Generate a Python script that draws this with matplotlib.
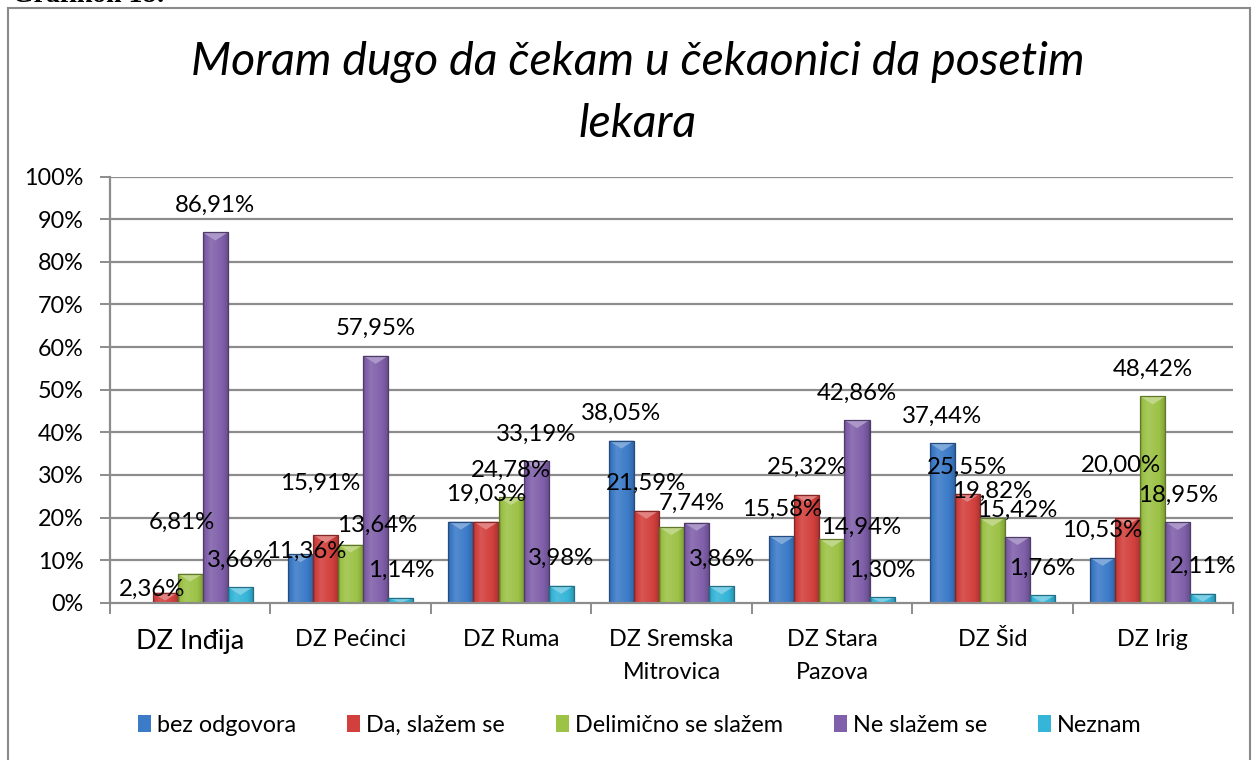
import matplotlib
matplotlib.use("Agg")
import matplotlib.pyplot as plt
import numpy as np
from matplotlib.patches import Rectangle, Polygon
from matplotlib.colors import to_rgb

# ---------------- data ----------------
categories = ["DZ Inđija", "DZ Pećinci", "DZ Ruma", "DZ Sremska\nMitrovica",
              "DZ Stara\nPazova", "DZ Šid", "DZ Irig"]
series_names = ["bez odgovora", "Da, slažem se", "Delimično se slažem",
                "Ne slažem se", "Neznam"]
bez_odgovora = [0.00, 11.36, 19.03, 38.05, 15.58, 37.44, 10.53]
da_slazem = [2.36, 15.91, 19.03, 21.59, 25.32, 25.55, 20.00]
delimicno = [6.81, 13.64, 24.78, 17.74, 14.94, 19.82, 48.42]
ne_slazem = [86.91, 57.95, 33.19, 18.76, 42.86, 15.42, 18.95]
neznam = [3.66, 1.14, 3.98, 3.86, 1.30, 1.76, 2.11]
series = [bez_odgovora, da_slazem, delimicno, ne_slazem, neznam]
yticks = [0, 10, 20, 30, 40, 50, 60, 70, 80, 90, 100]
title = "Moram dugo da čekam u čekaonici da posetim\nlekara"

# labels as shown in the picture
label_text_override = {(2, 3): "7,74%"}
hidden_labels = {(0, 0), (0, 2), (3, 3)}

# ---------------- styling ----------------
base_colors = ["#3c7bc8", "#d2403d", "#9cc246", "#8060aa", "#35b5d8"]
FONT = "Lato"
plt.rcParams["font.family"] = [FONT, "DejaVu Sans"]

W, H, DPI = 12.52, 7.60, 100
fig = plt.figure(figsize=(W, H), dpi=DPI)
fig.patch.set_facecolor("white")

def fx(px):
    return px / (W * DPI)

def fy(py):
    return 1 - py / (H * DPI)

# outer frame
fig.patches.append(Rectangle((fx(7.5), fy(790)), fx(1249.5) - fx(7.5), fy(8) - fy(790),
                             transform=fig.transFigure, fill=False,
                             edgecolor="#8a8a8a", lw=1.5, zorder=0))
fig.text(fx(12), fy(2), "Grafikon 18:", family="Liberation Serif", weight="bold",
         fontsize=20, va="baseline", ha="left")

ax_l, ax_r, ax_t, ax_b = 110, 1233, 176.7, 602.7
ax = fig.add_axes([fx(ax_l), fy(ax_b), fx(ax_r) - fx(ax_l), fy(ax_t) - fy(ax_b)])
ax.set_facecolor("none")

n_cat = len(categories)
n_ser = len(series)
bw = 25 / 160
x = np.arange(n_cat)

ax.set_xlim(-0.5, n_cat - 0.5)
ax.set_ylim(0, 100)

grid_c = "#8c8c8c"
for t in yticks[1:]:
    ax.axhline(t, color=grid_c, lw=1.6, zorder=0)

# label nudges in pixels (dx, dy above bar top); default (0, 27)
label_nudge = {(1, 0): (-13, 3), (2, 0): (-8, 51), (0, 1): (6, 3),
               (1, 1): (-5, 52), (2, 1): (27, 19), (2, 3): (20, 24),
               (2, 4): (29, 12), (1, 6): (-7, 52)}

px_per_unit = (ax_b - ax_t) / 100.0

def shade(c, f):
    r, g, b = to_rgb(c)
    if f >= 1:
        return tuple(min(1, v + (1 - v) * (f - 1)) for v in (r, g, b))
    return tuple(v * f for v in (r, g, b))

prof_t = np.linspace(0, 1, 64)
profile = np.interp(prof_t, [0, 0.06, 0.3, 0.75, 0.94, 1.0],
                    [0.70, 0.95, 1.12, 1.0, 0.85, 0.68])

for si, vals in enumerate(series):
    offs = (si - (n_ser - 1) / 2) * bw
    bars = ax.bar(x + offs, vals, width=bw, color=base_colors[si],
                  edgecolor="none", zorder=2, label=series_names[si])
    grad = np.array([[shade(base_colors[si], f) for f in profile]])
    for ci, rect in enumerate(bars):
        h = rect.get_height()
        if h <= 0:
            continue
        x0 = rect.get_x()
        x1 = x0 + rect.get_width()
        im = ax.imshow(grad, extent=[x0, x1, 0, h], aspect="auto",
                       interpolation="bilinear", zorder=2.1)
        im.set_clip_path(rect)
        d = min(8 / px_per_unit, h)
        tri = Polygon([(x0, h), (x1, h), ((x0 + x1) / 2, h - d)],
                      closed=True, facecolor=shade(base_colors[si], 1.35),
                      edgecolor="none", zorder=2.2)
        ax.add_patch(tri)
        ax.add_patch(Rectangle((x0, 0), x1 - x0, h, fill=False,
                               edgecolor=shade(base_colors[si], 0.62), lw=0.9,
                               zorder=2.3))
        if (si, ci) in hidden_labels:
            continue
        txt = label_text_override.get((si, ci),
                                      f"{vals[ci]:.2f}".replace(".", ",") + "%")
        dx, dy = label_nudge.get((si, ci), (0, 27))
        ax.annotate(txt, xy=(x0 + (x1 - x0) / 2, h), xytext=(dx, dy),
                    textcoords="offset pixels", ha="center", va="center",
                    fontsize=17.3, color="black", zorder=5)

ax.set_xlim(-0.5, n_cat - 0.5)
ax.set_ylim(0, 100)

# axes styling
for s in ["top", "right"]:
    ax.spines[s].set_visible(False)
for s in ["left", "bottom"]:
    ax.spines[s].set_color(grid_c)
    ax.spines[s].set_linewidth(1.6)

ax.set_yticks(yticks)
ax.set_yticklabels([f"{t}%" for t in yticks], fontsize=16.8)
ax.tick_params(axis="y", direction="out", length=7, width=1.4, color=grid_c, pad=12)

ax.set_xticks(x)
ax.set_xticklabels(categories, fontsize=16.8, linespacing=1.7)
ax.tick_params(axis="x", which="major", length=0, pad=19)
ax.set_xticks(np.arange(-0.5, n_cat, 1.0), minor=True)
ax.tick_params(axis="x", which="minor", direction="out", length=8, width=1.4, color=grid_c)
ax.get_xticklabels()[0].set_fontsize(19.5)

fig.text(fx(638), fy(93), title, ha="center", va="center", fontsize=33.5,
         style="italic", linespacing=1.6)

leg = fig.legend(loc="center", bbox_to_anchor=(fx(640), fy(725)), ncol=5,
                 frameon=False, fontsize=16.8, handlelength=0.55, handleheight=0.75,
                 handletextpad=0.25, columnspacing=2.2)

fig.savefig("out.png", dpi=DPI, facecolor="white")
